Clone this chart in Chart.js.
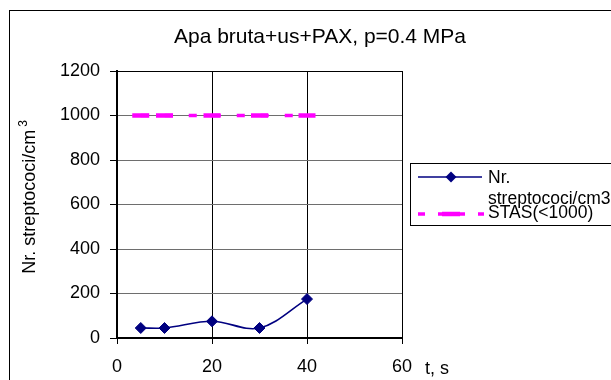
<!DOCTYPE html>
<html>
<head>
<meta charset="utf-8">
<title>Apa bruta+us+PAX, p=0.4 MPa</title>
<script src="https://cdn.jsdelivr.net/npm/chart.js@4/dist/chart.umd.min.js"></script>
<style>
  html, body { margin: 0; padding: 0; background: #ffffff; }
  canvas { display: block; }
</style>
</head>
<body>
<canvas id="chart" width="611" height="380"></canvas>
<script>
// Sampling times (s) and measured streptococci counts
const timeValues = [5, 10, 20, 30, 40];
const streptococci = [45, 45, 75, 45, 175];
// STAS limit (< 1000 per cm3)
const stasLimit = [1000, 1000, 1000, 1000, 1000];

const seriesNames = ['Nr. streptococi/cm3', 'STAS(<1000)'];
const chartTitle = 'Apa bruta+us+PAX, p=0.4 MPa';
const yAxisTitle = 'Nr. streptococi/cm';
const yAxisTitleSup = '3';
const xAxisTitle = 't, s';

const xMin = 0, xMax = 60, xStep = 20;
const yMin = 0, yMax = 1200, yStep = 200;

const FONT = '"Liberation Sans", Arial, sans-serif';
const NAVY = '#000080';
const MAGENTA = '#FF00FF';

function toPoints(xs, ys) {
  return xs.map((x, i) => ({ x: x, y: ys[i] }));
}

// Frame, title, axis titles and legend box
const decorations = {
  id: 'decorations',
  afterDraw(chart) {
    const ctx = chart.ctx;
    ctx.save();

    // outer frame
    ctx.strokeStyle = '#000';
    ctx.lineWidth = 1;
    ctx.strokeRect(9.5, 10.5, 700, 500);

    // title
    ctx.fillStyle = '#000';
    ctx.font = '21px ' + FONT;
    ctx.textAlign = 'center';
    ctx.textBaseline = 'alphabetic';
    ctx.fillText(chartTitle, 320, 43);

    // y axis title (rotated) with superscript
    ctx.save();
    ctx.translate(35, 197);
    ctx.rotate(-Math.PI / 2);
    ctx.font = '18px ' + FONT;
    const mainW = ctx.measureText(yAxisTitle).width;
    ctx.font = '12px ' + FONT;
    const supW = ctx.measureText(yAxisTitleSup).width;
    const total = mainW + 3 + supW;
    ctx.textAlign = 'left';
    ctx.font = '18px ' + FONT;
    ctx.fillText(yAxisTitle, -total / 2, 0);
    ctx.font = '12px ' + FONT;
    ctx.fillText(yAxisTitleSup, -total / 2 + mainW + 3, -8);
    ctx.restore();

    // x axis title
    ctx.font = '18px ' + FONT;
    ctx.textAlign = 'left';
    ctx.fillText(xAxisTitle, 425, 374);

    // legend box
    ctx.strokeStyle = '#000';
    ctx.lineWidth = 1;
    ctx.strokeRect(410.5, 163.5, 400, 62);

    // legend entry 1
    ctx.strokeStyle = NAVY;
    ctx.lineWidth = 1.6;
    ctx.beginPath();
    ctx.moveTo(418, 177);
    ctx.lineTo(482, 177);
    ctx.stroke();
    ctx.fillStyle = NAVY;
    ctx.beginPath();
    ctx.moveTo(451, 171.5);
    ctx.lineTo(456.5, 177);
    ctx.lineTo(451, 182.5);
    ctx.lineTo(445.5, 177);
    ctx.closePath();
    ctx.fill();

    // legend entry 2
    ctx.strokeStyle = MAGENTA;
    ctx.lineWidth = 3.5;
    ctx.setLineDash([7, 13]);
    ctx.beginPath();
    ctx.moveTo(418, 214);
    ctx.lineTo(484, 214);
    ctx.stroke();
    ctx.setLineDash([]);
    ctx.lineWidth = 4.5;
    ctx.beginPath();
    ctx.moveTo(442, 214);
    ctx.lineTo(460, 214);
    ctx.stroke();

    ctx.fillStyle = '#000';
    ctx.font = '17.5px ' + FONT;
    ctx.textAlign = 'left';
    ctx.fillText('Nr.', 488, 183);
    ctx.fillText('streptococi/cm3', 488, 204);
    ctx.fillText(seriesNames[1], 488, 218);

    ctx.restore();
  }
};

new Chart(document.getElementById('chart'), {
  type: 'line',
  data: {
    datasets: [
      {
        label: seriesNames[0],
        data: toPoints(timeValues, streptococci),
        borderColor: NAVY,
        backgroundColor: NAVY,
        borderWidth: 1.6,
        tension: 0.35,
        pointStyle: 'rectRot',
        pointRadius: 5.5,
        pointBorderWidth: 1,
        pointBackgroundColor: NAVY,
        pointBorderColor: NAVY,
        order: 1
      },
      {
        label: seriesNames[1],
        data: toPoints(timeValues, stasLimit),
        borderColor: MAGENTA,
        backgroundColor: MAGENTA,
        borderWidth: 3.5,
        borderDash: [8, 16],
        tension: 0,
        pointStyle: 'line',
        pointRadius: 8.5,
        pointBorderWidth: 4.5,
        pointBorderColor: MAGENTA,
        order: 2
      }
    ]
  },
  options: {
    responsive: false,
    animation: false,
    devicePixelRatio: 1,
    layout: { padding: { left: 0, top: 71, right: 209, bottom: 0 } },
    plugins: {
      legend: { display: false },
      title: { display: false },
      tooltip: { enabled: false }
    },
    scales: {
      x: {
        type: 'linear',
        min: xMin,
        max: xMax,
        ticks: {
          stepSize: xStep,
          color: '#000',
          font: { family: FONT, size: 18 },
          padding: 12,
          maxRotation: 0,
          callback: (v) => String(v)
        },
        grid: { color: '#000', lineWidth: 1, tickLength: 6, tickColor: '#000' },
        border: { color: '#000', width: 2 },
        afterFit(scale) { scale.height = 42; }
      },
      y: {
        min: yMin,
        max: yMax,
        ticks: {
          stepSize: yStep,
          color: '#000',
          font: { family: FONT, size: 18 },
          padding: 10,
          callback: (v) => String(v)
        },
        grid: {
          color: (c) => (c.tick && c.tick.value === yMax ? '#000' : '#6e6e6e'),
          lineWidth: 1,
          tickLength: 7,
          tickColor: '#000'
        },
        border: { color: '#000', width: 2 },
        afterFit(scale) { scale.width = 117; }
      }
    }
  },
  plugins: [decorations]
});
</script>
</body>
</html>
